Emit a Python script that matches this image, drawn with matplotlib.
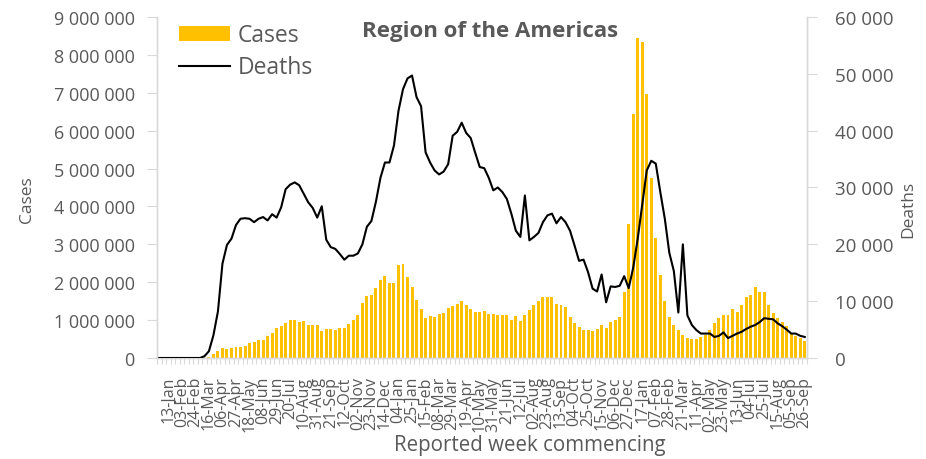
import matplotlib
matplotlib.use("Agg")
import matplotlib.pyplot as plt
from matplotlib.ticker import FuncFormatter, FixedLocator
from matplotlib.patches import Patch
from matplotlib.lines import Line2D
import numpy as np

plt.rcParams['font.family'] = ['Open Sans', 'DejaVu Sans']

# Weekly categories: 30-Dec-2019 ... 26-Sep-2022 (144 weeks)
n_weeks = 144
weeks = np.arange(n_weeks)

tick_labels = ["13-Jan", "03-Feb", "24-Feb", "16-Mar", "06-Apr", "27-Apr", "18-May", "08-Jun",
               "29-Jun", "20-Jul", "10-Aug", "31-Aug", "21-Sep", "12-Oct", "02-Nov", "23-Nov",
               "14-Dec", "04-Jan", "25-Jan", "15-Feb", "08-Mar", "29-Mar", "19-Apr", "10-May",
               "31-May", "21-Jun", "12-Jul", "02-Aug", "23-Aug", "13-Sep", "04-Oct", "25-Oct",
               "15-Nov", "06-Dec", "27-Dec", "17-Jan", "07-Feb", "28-Feb", "21-Mar", "11-Apr",
               "02-May", "23-May", "13-Jun", "04-Jul", "25-Jul", "15-Aug", "05-Sep", "26-Sep"]
tick_positions = list(range(2, n_weeks, 3))

# Weekly cases (millions)
cases_m = [0, 0, 0, 0, 0, 0, 0, 0, 0, 0, 0, 0.03,
           0.10, 0.19, 0.26, 0.24, 0.26, 0.29, 0.29, 0.32, 0.39, 0.41,
           0.475, 0.475, 0.58, 0.66, 0.78, 0.845, 0.915, 1.0, 1.0, 0.95,
           0.97, 0.87, 0.87, 0.87, 0.70, 0.765, 0.765, 0.75, 0.78, 0.79,
           0.90, 1.0, 1.13, 1.44, 1.64, 1.65, 1.86, 2.05, 2.16, 1.98,
           1.99, 2.45, 2.48, 2.13, 1.87, 1.53, 1.29, 1.06, 1.12, 1.09,
           1.16, 1.20, 1.31, 1.36, 1.43, 1.50, 1.39, 1.29, 1.22, 1.21,
           1.23, 1.16, 1.16, 1.13, 1.13, 1.13, 0.99, 1.11, 0.98, 1.13,
           1.28, 1.40, 1.50, 1.61, 1.61, 1.61, 1.43, 1.39, 1.35, 1.09,
           0.93, 0.81, 0.74, 0.74, 0.70, 0.77, 0.87, 0.79, 0.94, 1.0,
           1.09, 1.74, 3.53, 6.44, 8.44, 8.35, 6.97, 4.75, 3.18, 2.20,
           1.50, 1.09, 0.88, 0.74, 0.62, 0.53, 0.51, 0.51, 0.55, 0.62,
           0.75, 0.92, 1.06, 1.14, 1.14, 1.29, 1.21, 1.41, 1.61, 1.65,
           1.87, 1.74, 1.74, 1.40, 1.19, 1.06, 0.95, 0.84, 0.66, 0.57,
           0.53, 0.44]

# Weekly deaths
deaths = [0, 0, 0, 0, 0, 0, 0, 0, 0, 0, 300, 1200,
          4000, 8200, 16600, 19900, 21000, 23400, 24500, 24600, 24500, 23900,
          24500, 24800, 24200, 25300, 24700, 26500, 29700, 30500, 30900, 30400,
          28900, 27400, 26400, 24700, 26700, 20800, 19500, 19200, 18300, 17300,
          18000, 18000, 18400, 20000, 23100, 24100, 27500, 31700, 34400, 34400,
          37400, 43500, 47300, 49200, 49700, 45900, 44300, 36200, 34400, 33000,
          32300, 32800, 34100, 39100, 39800, 41400, 39600, 38700, 36100, 33600,
          33400, 31700, 29500, 30000, 29200, 28000, 25400, 22400, 21300, 28600,
          20700, 21300, 22000, 23900, 25100, 25400, 23700, 24800, 23900, 22400,
          19800, 17100, 17300, 15100, 12200, 11700, 14700, 9800, 12600, 12500,
          12700, 14400, 12300, 15900, 21000, 27000, 33000, 34700, 34200, 29200,
          24500, 18500, 15300, 8000, 20000, 7500, 5800, 4900, 4300, 4300,
          4300, 3700, 3900, 4500, 3500, 3900, 4300, 4600, 5100, 5500,
          5800, 6300, 7000, 6900, 6800, 6100, 5600, 5000, 4300, 4300,
          3900, 3700]

cases = np.array(cases_m) * 1e6

grey_txt = "#595959"
axis_col = "#D9D9D9"
bar_col = "#FFC000"

fig = plt.figure(figsize=(9.26, 4.60), dpi=100)
ax = fig.add_axes([157/926, 1 - 359/460, 650/926, 341/460])
ax2 = ax.twinx()

ax.bar(weeks, cases, width=0.66, color=bar_col, zorder=2)
ax2.plot(weeks, deaths, color="black", lw=1.5, zorder=3)

ax.set_xlim(-0.5, n_weeks - 0.5)
ax.set_ylim(0, 9e6)
ax2.set_ylim(0, 60000)
ax.set_yticks(np.arange(0, 9e6 + 1, 1e6))
ax2.set_yticks(np.arange(0, 60001, 10000))

fmt = FuncFormatter(lambda v, p: f"{int(round(v)):,}".replace(",", " "))
ax.yaxis.set_major_formatter(fmt)
ax2.yaxis.set_major_formatter(fmt)

ax.set_xticks(tick_positions)
ax.set_xticklabels(tick_labels, rotation=90, fontsize=11.5, color=grey_txt)
ax.xaxis.set_minor_locator(FixedLocator(np.arange(-0.5, n_weeks, 1)))
ax.tick_params(axis='x', which='major', length=0, pad=13)
ax.tick_params(axis='x', which='minor', length=4, width=0.8, color=axis_col)

ax.tick_params(axis='y', which='major', length=7, width=0.8, color=axis_col,
               labelsize=13, labelcolor=grey_txt, pad=9)
ax2.tick_params(axis='y', which='major', length=7, width=0.8, color=axis_col,
                labelsize=13.5, labelcolor=grey_txt, pad=13)

for a in (ax, ax2):
    a.spines['top'].set_visible(False)
    for s in ('left', 'right', 'bottom'):
        a.spines[s].set_color(axis_col)
        a.spines[s].set_linewidth(1.0)
    a.set_facecolor('none')

fig.text(27/926, 1 - 200/460, "Cases", rotation=90, ha='center', va='center',
         fontsize=12.5, color=grey_txt)
fig.text(908/926, 1 - 209/460, "Deaths", rotation=90, ha='center', va='center',
         fontsize=12.5, color=grey_txt)
fig.text(530/926, 1 - 446/460, "Reported week commencing", ha='center', va='center',
         fontsize=14.8, color=grey_txt)
fig.text(490/926, 1 - 32/460, "Region of the Americas", ha='center', va='center',
         fontsize=16, fontweight='bold', color=grey_txt)

handles = [Patch(facecolor=bar_col, edgecolor='none'),
           Line2D([0], [0], color='black', lw=1.5)]
leg = fig.legend(handles, ["Cases", "Deaths"], loc='upper left',
                 bbox_to_anchor=(161/926, 1 - 6/460), frameon=False,
                 fontsize=16.5, handlelength=2.2, handleheight=0.6,
                 labelspacing=0.35, handletextpad=0.35, borderpad=0.3)
for t in leg.get_texts():
    t.set_color(grey_txt)

fig.savefig("out.png", dpi=100)
